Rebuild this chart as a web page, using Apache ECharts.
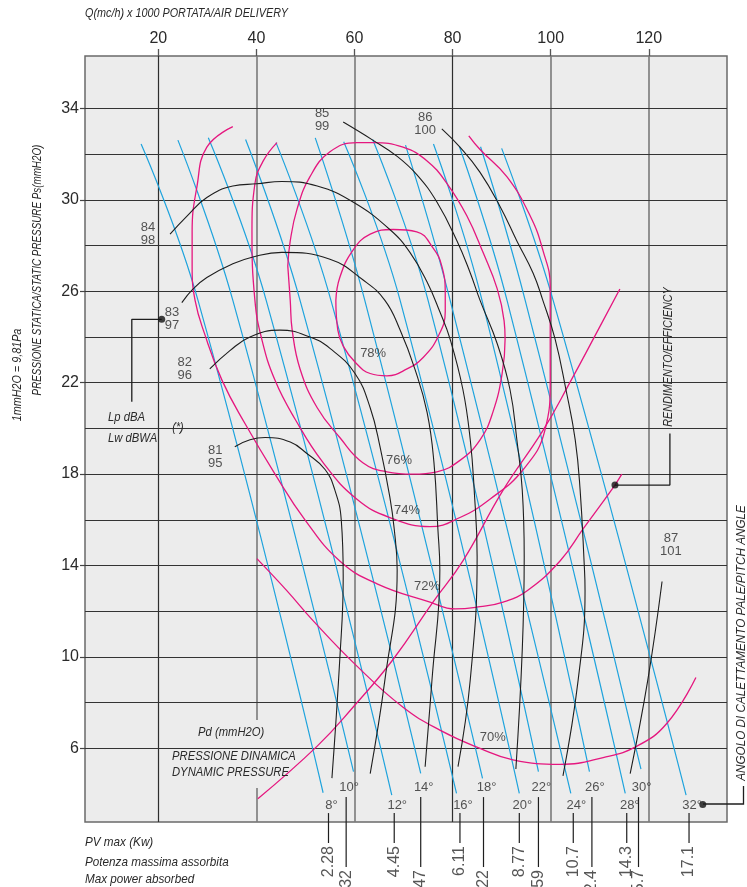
<!DOCTYPE html>
<html>
<head>
<meta charset="utf-8">
<title>Curve caratteristiche ventilatore</title>
<script src="https://cdn.jsdelivr.net/npm/echarts@6/dist/echarts.min.js"></script>
<style>
	html, body { margin:0; padding:0; background:#fff; }
	#chart { width:747px; height:887px; }
</style>
</head>
<body>
<div id="chart"></div>
<script>
// assi: Q (mc/h x 1000) e Ps (mmH2O)
var qTicks = [20, 40, 60, 80, 100, 120];
var psTicks = [6, 10, 14, 18, 22, 26, 30, 34];
var psGrid = [6, 8, 10, 12, 14, 16, 18, 20, 22, 24, 26, 28, 30, 32, 34];
var qMin = 5.06, qMax = 135.94, psMin = 2.78, psMax = 36.29;

// angoli di calettamento pale + potenza max assorbita (kW)
var pitchAngles = [8, 10, 12, 14, 16, 18, 20, 22, 24, 26, 28, 30, 32];
var powerKw = ['2.28', '3.32', '4.45', '5.47', '6.11', '7.22', '8.77', '9.59', '10.7', '12.4', '14.3', '15.7', '17.1'];
var pitchTickQ = [54.7, 58.3, 68.1, 73.5, 81.5, 86.3, 93.6, 97.5, 104.6, 108.4, 115.5, 117.9, 128.2];
var pitchLines = [
	[[16.5, 32.44], [28.1, 25.6], [53.6, 4.06]],
	[[24.0, 32.61], [35.2, 25.6], [59.8, 4.98]],
	[[30.2, 32.71], [42.0, 25.6], [67.6, 3.96]],
	[[37.8, 32.64], [48.9, 25.6], [73.5, 4.91]],
	[[44.0, 32.50], [55.2, 25.6], [80.8, 4.03]],
	[[52.0, 32.71], [62.1, 25.6], [86.1, 4.69]],
	[[57.8, 32.54], [69.3, 25.6], [93.6, 4.03]],
	[[63.7, 32.64], [75.0, 25.6], [97.5, 4.98]],
	[[70.4, 32.39], [79.5, 25.6], [104.1, 4.03]],
	[[76.1, 32.44], [86.0, 25.6], [107.9, 4.98]],
	[[81.4, 32.32], [91.1, 25.6], [115.2, 4.03]],
	[[85.7, 32.32], [94.8, 25.6], [118.4, 5.09]],
	[[90.0, 32.25], [100.5, 25.6], [127.6, 3.96]]
];

// rendimento
var eff78 = [[56.2,25.6],[57.0,26.6],[59.7,27.8],[63.2,28.5],[67.9,28.7],[72.7,28.6],[76.0,27.9],[77.8,27.1],[78.5,25.9],[78.5,25.1],[77.0,24.0],[74.0,23.1],[70.7,22.6],[66.6,22.3],[63.2,22.4],[60.1,22.9],[57.7,23.6],[56.6,24.3],[56.2,25.6]];
var eff76 = [[46.4,27.1],[46.9,25.6],[47.3,24.3],[48.9,22.6],[52.4,20.9],[57.0,19.6],[61.7,18.5],[66.6,18.1],[71.9,18.0],[76.8,18.1],[81.5,18.6],[85.6,19.5],[88.2,20.7],[90.1,22.4],[90.7,23.9],[90.5,24.7],[89.1,26.1],[86.2,27.7],[82.9,29.3],[78.9,30.7],[74.8,31.7],[69.9,32.3],[63.8,32.5],[60.5,32.5],[55.0,32.1],[50.9,31.0],[48.3,29.6],[46.9,28.2],[46.4,27.1]];
var eff74 = [[44.2,32.5],[41.4,31.7],[39.7,30.7],[39.1,28.6],[39.7,25.6],[41.1,23.9],[43.8,22.1],[47.9,20.4],[53.6,18.5],[60.5,16.9],[67.2,16.1],[75.4,15.7],[81.5,16.1],[87.6,16.9],[94.4,18.2],[98.8,19.9],[99.9,22.1],[99.9,23.9],[99.9,26.2],[98.4,27.8],[95.8,29.3],[91.1,31.0],[85.6,32.2],[83.3,32.8]];
var eff72 = [[35.2,33.2],[29.9,32.3],[27.9,30.6],[26.9,28.6],[26.9,27.1],[27.5,25.6],[29.5,24.1],[33.0,22.1],[37.7,20.2],[43.8,18.0],[49.9,16.0],[57.0,14.2],[64.6,13.2],[75.4,12.4],[80.5,12.1],[85.6,12.2],[90.3,12.4],[95.2,12.9],[101.9,14.2],[106.6,15.6],[112.7,17.4],[114.5,18.0]];
var eff70 = [[40.1,14.3],[46.2,12.9],[51.5,11.6],[60.5,9.6],[69.9,7.8],[77.4,6.8],[85.6,6.0],[92.3,5.5],[101.9,5.3],[110.7,5.6],[117.6,6.1],[123.7,7.1],[129.6,9.1]];
var effNames = ['78%', '76%', '74%', '72%', '70%'];
var effLabelAt = [[63.8, 23.3], [69.1, 18.6], [70.7, 16.4], [74.8, 13.1], [88.2, 6.5]];

// pressione dinamica
var pdCurve = [[40.3,3.8],[52.4,6.1],[59.7,7.8],[67.9,9.9],[76.0,12.4],[82.1,14.2],[90.3,17.3],[98.4,19.9],[103.9,22.0],[109.4,24.2],[114.1,26.1]];

// rumorosita' Lp dBA / Lw dBWA
var noiseNames = ['81\n95', '82\n96', '83\n97', '84\n98', '85\n99', '86\n100', '87\n101'];
var noiseLabelAt = [[31.6, 18.75], [25.4, 22.6], [22.8, 24.8], [17.9, 28.5], [53.4, 33.5], [74.4, 33.3], [124.5, 14.9]];
var noiseCurves = [
	[[35.6,19.2],[38.7,19.5],[41.8,19.6],[46.9,19.4],[50.3,18.9],[54.0,18.2],[56.0,17.3],[57.3,16.0],[57.7,13.5],[57.0,9.9],[55.4,4.7]],
	[[30.5,22.6],[34.6,23.4],[38.7,24.0],[44.8,24.3],[50.9,24.0],[55.0,23.5],[60.1,22.4],[63.2,20.9],[65.2,19.2],[67.2,17.0],[68.1,15.6],[68.7,13.8],[66.2,9.0],[63.2,4.9]],
	[[24.8,25.5],[27.1,26.1],[29.9,26.6],[35.2,27.2],[39.3,27.5],[45.2,27.7],[55.0,27.4],[61.7,26.5],[66.2,25.6],[69.3,24.3],[72.3,22.6],[74.8,20.7],[76.2,18.5],[77.0,15.6],[77.4,13.8],[75.8,9.0],[74.4,5.2]],
	[[22.4,28.5],[25.9,29.3],[29.9,30.1],[35.2,30.6],[40.1,30.7],[45.2,30.8],[52.4,30.6],[59.7,29.9],[67.2,28.7],[71.3,27.7],[74.8,26.4],[77.4,25.1],[79.5,23.9],[82.1,21.7],[83.6,19.5],[84.4,17.3],[85.0,14.4],[83.6,9.0],[81.1,5.2]],
	[[57.7,33.4],[63.8,32.6],[68.7,31.9],[72.7,31.1],[76.8,29.9],[80.9,28.2],[83.6,26.8],[85.6,25.6],[89.1,23.7],[91.7,21.7],[93.1,19.5],[94.2,17.3],[94.6,14.4],[94.2,10.3],[92.9,5.1]],
	[[77.8,33.1],[81.5,32.3],[85.6,31.2],[89.7,29.7],[93.1,28.2],[96.4,26.8],[98.4,25.6],[100.9,23.9],[103.1,21.7],[105.0,19.5],[106.0,17.3],[106.8,14.2],[107.0,12.9],[105.6,9.0],[102.5,4.8]],
	[[122.7,13.3],[119.8,9.0],[116.2,4.9]]
];

// richiami (linee con pallino)
var calloutLp = [[14.6, 21.17], [14.6, 24.77], [20.7, 24.77]];
var calloutEff = [[124.3, 19.78], [124.3, 17.52], [113.1, 17.52]];
var pitchDot = [131.0, 3.55];

var FONT = '"Liberation Sans", Arial, sans-serif';
var PINK = '#e5177f', BLUE = '#1ea3dd', INK = '#1e1e1e', TXT = '#2a2a2a';

var chart = echarts.init(document.getElementById('chart'));

function curve(data, color, width, z) {
	return {
		type: 'line', data: data, smooth: 0.45, symbol: 'none', silent: true,
		lineStyle: { color: color, width: width }, z: z, animation: false
	};
}

function textPoints(pos, names) {
	return pos.map(function (p, i) { return { value: p, name: names[i] }; });
}

// griglia
var gridSegs = [];
var gap40 = [4.27, 7.24];
qTicks.forEach(function (q) {
	var st = (q === 20 || q === 80) ? { color: '#2e2e2e', width: 1.2, opacity: 1 } : { color: '#7a7a7a', width: 1.6, opacity: 1 };
	if (q === 40) {
		gridSegs.push({ coords: [[q, psMax], [q, gap40[1]]], lineStyle: st });
		gridSegs.push({ coords: [[q, gap40[0]], [q, psMin]], lineStyle: st });
	} else {
		gridSegs.push({ coords: [[q, psMax], [q, psMin]], lineStyle: st });
	}
});
psGrid.forEach(function (p) {
	gridSegs.push({ coords: [[qMin, p], [qMax, p]], lineStyle: { color: '#333', width: 1.2, opacity: 1 } });
});

var series = [];
series.push({
	type: 'lines', coordinateSystem: 'cartesian2d', silent: true, z: 1, animation: false,
	lineStyle: { opacity: 1, curveness: 0 }, data: gridSegs
});

pitchLines.forEach(function (d) { series.push(curve(d, BLUE, 1.2, 3)); });
[eff78, eff76, eff74, eff72, eff70, pdCurve].forEach(function (d) { series.push(curve(d, PINK, 1.3, 4)); });
noiseCurves.forEach(function (d) { series.push(curve(d, INK, 1.1, 5)); });

// tacche sotto il grafico per la potenza
pitchTickQ.forEach(function (q, i) {
	var range = (i % 2 === 0) ? [1.86, 3.17] : [0.81, 3.87];
	series.push({
		type: 'line', data: [[q, range[0]], [q, range[1]]], symbol: 'none', clip: false, silent: true,
		lineStyle: { color: INK, width: 1.2 }, z: 5, animation: false
	});
});

[calloutLp, calloutEff].forEach(function (d) {
	series.push({
		type: 'line', data: d, symbol: 'none', clip: false, silent: true,
		lineStyle: { color: INK, width: 1.3 }, z: 6, animation: false
	});
});
series.push({
	type: 'scatter', clip: false, silent: true, z: 7, animation: false,
	symbolSize: 7, itemStyle: { color: '#111' },
	data: [calloutLp[2], calloutEff[2], pitchDot]
});

var hidden = { color: 'rgba(0,0,0,0)' };
// etichette rendimento
series.push({
	type: 'scatter', silent: true, z: 8, animation: false, symbolSize: 1, itemStyle: hidden,
	data: textPoints(effLabelAt, effNames),
	label: { show: true, position: 'inside', formatter: '{b}', color: TXT, fontSize: 13, fontFamily: FONT }
});
// etichette rumorosita'
series.push({
	type: 'scatter', silent: true, z: 8, animation: false, symbolSize: 1, itemStyle: hidden,
	data: textPoints(noiseLabelAt, noiseNames),
	label: { show: true, position: 'inside', formatter: '{b}', color: TXT, fontSize: 13, lineHeight: 13, fontFamily: FONT }
});
// angoli
series.push({
	type: 'scatter', silent: true, z: 8, animation: false, symbolSize: 1, itemStyle: hidden, clip: false,
	data: pitchTickQ.map(function (q, i) {
		return { value: [q, i % 2 === 0 ? 3.52 : 4.31], name: pitchAngles[i] + '°' };
	}),
	label: { show: true, position: 'inside', offset: [3, 0], formatter: '{b}', color: TXT, fontSize: 13, fontFamily: FONT }
});
// potenza kW (testo verticale)
series.push({
	type: 'scatter', silent: true, z: 8, animation: false, symbolSize: 1, itemStyle: hidden, clip: false,
	data: pitchTickQ.map(function (q, i) {
		return { value: [q, i % 2 === 0 ? 1.73 : 0.68], name: powerKw[i] };
	}),
	label: {
		show: true, position: 'inside', formatter: '{b}', rotate: 90, align: 'right', verticalAlign: 'middle',
		color: TXT, fontSize: 16, fontFamily: FONT
	}
});

function txt(s, x, y, align, size, rot, sx) {
	return {
		type: 'text', x: x, y: y, rotation: rot ? rot * Math.PI / 180 : 0, scaleX: sx || 0.9, silent: true, z: 20,
		style: { text: s, align: align, verticalAlign: 'middle', fill: TXT, font: 'italic ' + size + 'px ' + FONT }
	};
}

var option = {
	backgroundColor: '#ffffff',
	animation: false,
	grid: { left: 85, right: 20, top: 56, bottom: 65, show: true, backgroundColor: '#ececec', borderColor: '#6a6a6a', borderWidth: 1.5 },
	xAxis: {
		type: 'value', position: 'top', min: qMin, max: qMax,
		axisLine: { show: false },
		axisTick: { show: true, customValues: qTicks, length: 7, lineStyle: { color: '#555', width: 1.3 } },
		splitLine: { show: false },
		axisLabel: { customValues: qTicks, fontSize: 16, color: TXT, margin: 9, fontFamily: FONT }
	},
	yAxis: {
		type: 'value', min: psMin, max: psMax,
		axisLine: { show: false },
		axisTick: { show: true, customValues: psTicks, length: 5, lineStyle: { color: '#444', width: 1.2 } },
		splitLine: { show: false },
		axisLabel: { customValues: psTicks, fontSize: 16, color: TXT, margin: 6, padding: [0, 0, 10, 0], fontFamily: FONT }
	},
	graphic: [
		txt('Q(mc/h) x 1000 PORTATA/AIR DELIVERY', 85, 14, 'left', 12),
		txt('PRESSIONE STATICA/STATIC PRESSURE Ps(mmH2O)', 38, 270, 'center', 12, 90, 0.82),
		txt('1mmH2O = 9,81Pa', 18, 375, 'center', 12, 90),
		txt('Lp dBA', 108, 418, 'left', 12.5),
		txt('Lw dBWA', 108, 439, 'left', 12.5),
		txt('(*)', 178, 428, 'center', 12),
		txt('Pd (mmH2O)', 198, 733, 'left', 12.5),
		txt('PRESSIONE DINAMICA', 172, 757, 'left', 12.5),
		txt('DYNAMIC PRESSURE', 172, 773, 'left', 12.5),
		txt('RENDIMENTO/EFFICIENCY', 669, 357, 'center', 12, 90),
		txt('ANGOLO DI CALETTAMENTO PALE/PITCH ANGLE', 741, 643, 'center', 13, 90),
		txt('PV max (Kw)', 85, 842, 'left', 13),
		txt('Potenza massima assorbita', 85, 862, 'left', 13),
		txt('Max power absorbed', 85, 879, 'left', 13),
		{
			type: 'polyline', silent: true, z: 19,
			shape: { points: [[703, 804], [743.5, 804], [743.5, 786]] },
			style: { stroke: INK, lineWidth: 1.3, fill: null }
		}
	],
	series: series
};

chart.setOption(option);
</script>
</body>
</html>
